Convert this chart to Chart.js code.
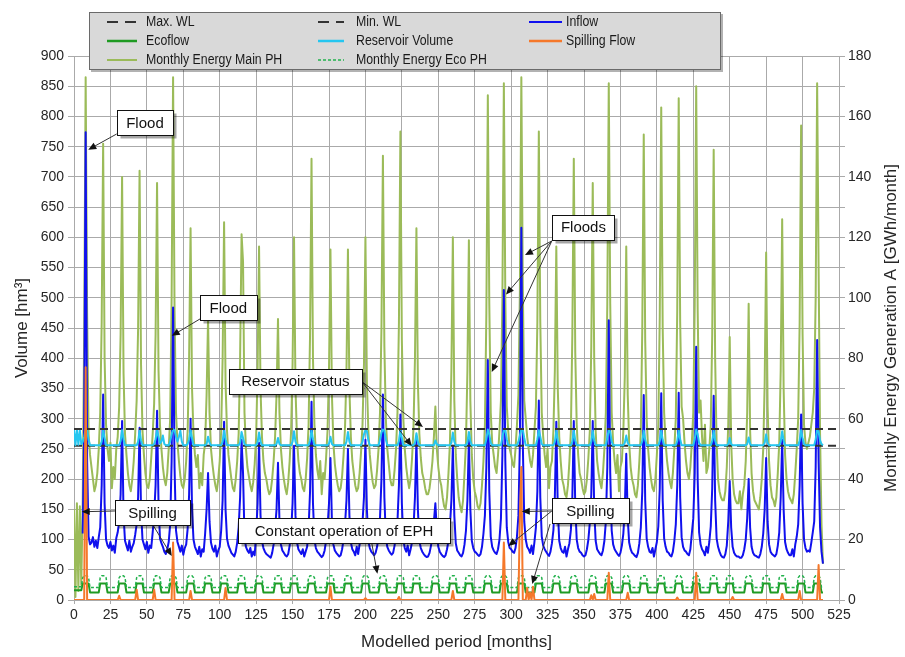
<!DOCTYPE html>
<html>
<head>
<meta charset="utf-8">
<script src="https://cdn.jsdelivr.net/npm/chart.js@4.4.1/dist/chart.umd.min.js"></script>
<style>
  html, body { margin: 0; padding: 0; background: #fff; }
  #wrap { width: 905px; height: 657px; }
</style>
</head>
<body>
<div id="wrap"><canvas id="chart" width="905" height="657"></canvas></div>
<script>
// Reservoir simulation, one value per modelled month (month 0 .. 514)

// Inflow [hm3] (no inflow record before month 6)
const inflow = [
  null,null,null,null,null,null,110,290,774,230,105,92,
  95,104,88,98,86,104,120,190,340,160,100,90,
  86,96,82,90,78,102,112,130,175,296,140,98,
  90,82,98,80,88,94,108,125,170,285,150,100,
  92,84,96,78,90,86,112,140,190,313,160,102,
  94,88,80,76,84,96,125,230,484,220,115,96,
  88,80,90,75,86,92,118,175,300,150,100,88,
  82,76,88,72,84,80,110,150,210,130,95,85,
  80,90,72,82,88,115,165,295,150,102,90,84,
  78,75,72,80,95,120,170,265,210,105,88,82,
  78,86,72,80,74,110,160,260,140,98,86,80,
  76,74,72,70,78,92,118,150,227,130,92,82,
  78,74,72,76,90,112,160,255,140,96,84,80,
  76,84,72,80,88,118,180,328,160,100,86,80,
  77,74,71,74,82,98,120,160,235,130,92,82,
  78,75,72,74,84,100,125,165,250,140,95,84,
  80,74,88,76,92,102,128,170,265,150,98,86,
  80,77,74,78,88,106,135,200,340,170,104,88,
  82,78,75,78,90,108,130,190,307,160,100,86,
  80,90,74,84,96,120,170,266,150,98,86,80,
  76,73,71,72,78,90,105,130,160,115,88,80,
  76,73,71,74,84,98,122,165,255,140,94,82,
  78,74,72,78,92,115,165,265,150,98,86,80,
  78,75,73,76,88,110,140,220,397,180,105,88,
  82,78,76,84,100,135,240,513,230,120,96,86,
  84,80,78,86,105,140,260,616,260,130,100,88,
  84,78,90,76,96,120,180,330,170,105,90,84,
  80,76,73,80,94,115,170,295,150,98,86,80,
  78,88,72,84,94,116,170,296,155,100,86,80,
  78,74,72,74,84,100,128,175,296,150,98,84,
  80,76,74,82,98,130,220,463,210,115,92,84,
  80,76,73,78,90,110,150,242,135,95,84,78,
  76,73,71,78,94,120,180,339,165,102,88,80,
  78,86,72,84,96,122,185,342,165,102,88,80,
  78,74,72,80,98,125,190,343,170,104,88,82,
  80,76,74,84,110,135,210,419,200,112,92,84,
  80,74,88,78,96,122,185,338,165,102,88,80,
  74,71,70,76,90,130,197,120,88,78,74,72,
  72,70,70,74,84,100,135,200,120,88,78,74,
  73,71,70,76,88,110,150,235,130,92,80,76,
  74,72,76,90,112,170,265,150,96,84,78,74,
  74,84,72,92,105,125,190,307,160,100,86,80,
  82,80,95,112,130,220,430,230,120,80,60
];

// Reservoir volume [hm3]
const reservoir = [
  282,256,282,257,281,258,262,270,282,281,265,256,
  256,256,256,256,256,256,256,262,281,268,256,256,
  256,256,256,256,256,256,256,256,263,281,266,256,
  256,256,256,256,256,256,256,256,262,280,264,256,
  256,256,256,256,256,256,256,258,266,281,270,259,
  262,272,258,256,256,256,262,274,282,281,270,262,
  270,280,262,256,256,256,258,266,281,268,256,256,
  256,256,256,256,256,256,256,258,270,260,256,256,
  256,256,256,256,256,256,262,280,266,256,256,256,
  256,256,256,256,256,256,260,278,268,258,256,256,
  256,256,256,256,256,256,261,277,262,256,256,256,
  256,256,256,256,256,256,256,258,268,258,256,256,
  256,256,256,256,256,256,262,279,262,256,256,256,
  256,256,256,256,256,256,264,281,266,256,256,256,
  256,256,256,256,256,256,256,259,270,258,256,256,
  256,256,256,256,256,256,256,262,278,262,256,256,
  256,256,256,256,256,256,262,274,281,279,264,256,
  256,256,256,256,256,256,265,277,282,280,266,256,
  256,256,256,256,256,256,256,263,281,268,256,256,
  256,256,256,256,256,256,260,276,262,256,256,256,
  256,256,256,256,256,256,256,256,264,258,256,256,
  256,256,256,256,256,256,256,260,277,262,256,256,
  256,256,256,256,256,256,261,278,263,256,256,256,
  256,256,256,256,256,256,256,266,282,274,260,256,
  256,256,256,256,256,256,270,282,281,266,256,256,
  256,256,256,256,256,262,272,282,282,268,256,256,
  256,256,256,256,256,256,266,281,270,258,256,256,
  256,256,256,256,256,256,262,280,264,256,256,256,
  256,256,256,256,256,256,262,280,264,256,256,256,
  256,256,256,256,256,256,256,262,280,264,256,256,
  256,256,256,256,256,256,268,282,278,262,256,256,
  256,256,256,256,256,256,260,272,260,256,256,256,
  256,256,256,256,256,256,263,280,265,256,256,256,
  256,256,256,256,256,256,263,280,265,256,256,256,
  256,256,256,256,256,256,263,281,266,256,256,256,
  256,256,256,256,256,256,266,282,274,260,256,256,
  256,256,256,256,256,256,263,280,264,256,256,256,
  256,256,256,256,256,258,268,258,256,256,256,256,
  256,256,256,256,256,256,258,269,258,256,256,256,
  256,256,256,256,256,256,260,274,260,256,256,256,
  256,256,256,256,256,262,279,264,256,256,256,256,
  256,256,256,256,256,256,264,281,268,258,256,256,
  256,256,256,256,256,266,282,278,264,258,256
];

// Ecoflow release [hm3]
const ecoflow = [
  16,16,16,16,16,16,27.5,27.5,27.5,27.5,27.5,12.5,
  12.5,12.5,12.5,12.5,12.5,12.5,27.5,27.5,27.5,27.5,27.5,12.5,
  12.5,12.5,12.5,12.5,12.5,12.5,12.5,27.5,27.5,27.5,27.5,27.5,
  12.5,12.5,12.5,12.5,12.5,12.5,12.5,27.5,27.5,27.5,27.5,27.5,
  12.5,12.5,12.5,12.5,12.5,12.5,12.5,27.5,27.5,27.5,27.5,27.5,
  12.5,12.5,12.5,12.5,12.5,12.5,27.5,27.5,27.5,27.5,27.5,12.5,
  12.5,12.5,12.5,12.5,12.5,12.5,27.5,27.5,27.5,27.5,27.5,12.5,
  12.5,12.5,12.5,12.5,12.5,12.5,27.5,27.5,27.5,27.5,27.5,12.5,
  12.5,12.5,12.5,12.5,12.5,27.5,27.5,27.5,27.5,27.5,12.5,12.5,
  12.5,12.5,12.5,12.5,12.5,27.5,27.5,27.5,27.5,27.5,12.5,12.5,
  12.5,12.5,12.5,12.5,12.5,27.5,27.5,27.5,27.5,27.5,12.5,12.5,
  12.5,12.5,12.5,12.5,12.5,12.5,27.5,27.5,27.5,27.5,27.5,12.5,
  12.5,12.5,12.5,12.5,12.5,27.5,27.5,27.5,27.5,27.5,12.5,12.5,
  12.5,12.5,12.5,12.5,12.5,27.5,27.5,27.5,27.5,27.5,12.5,12.5,
  12.5,12.5,12.5,12.5,12.5,12.5,27.5,27.5,27.5,27.5,27.5,12.5,
  12.5,12.5,12.5,12.5,12.5,12.5,27.5,27.5,27.5,27.5,27.5,12.5,
  12.5,12.5,12.5,12.5,12.5,12.5,27.5,27.5,27.5,27.5,27.5,12.5,
  12.5,12.5,12.5,12.5,12.5,12.5,27.5,27.5,27.5,27.5,27.5,12.5,
  12.5,12.5,12.5,12.5,12.5,12.5,27.5,27.5,27.5,27.5,27.5,12.5,
  12.5,12.5,12.5,12.5,12.5,27.5,27.5,27.5,27.5,27.5,12.5,12.5,
  12.5,12.5,12.5,12.5,12.5,12.5,27.5,27.5,27.5,27.5,27.5,12.5,
  12.5,12.5,12.5,12.5,12.5,12.5,27.5,27.5,27.5,27.5,27.5,12.5,
  12.5,12.5,12.5,12.5,12.5,27.5,27.5,27.5,27.5,27.5,12.5,12.5,
  12.5,12.5,12.5,12.5,12.5,12.5,27.5,27.5,27.5,27.5,27.5,12.5,
  12.5,12.5,12.5,12.5,12.5,27.5,27.5,27.5,27.5,27.5,12.5,12.5,
  12.5,12.5,12.5,12.5,12.5,27.5,27.5,27.5,27.5,27.5,12.5,12.5,
  12.5,12.5,12.5,12.5,12.5,27.5,27.5,27.5,27.5,27.5,12.5,12.5,
  12.5,12.5,12.5,12.5,12.5,27.5,27.5,27.5,27.5,27.5,12.5,12.5,
  12.5,12.5,12.5,12.5,12.5,27.5,27.5,27.5,27.5,27.5,12.5,12.5,
  12.5,12.5,12.5,12.5,12.5,12.5,27.5,27.5,27.5,27.5,27.5,12.5,
  12.5,12.5,12.5,12.5,12.5,27.5,27.5,27.5,27.5,27.5,12.5,12.5,
  12.5,12.5,12.5,12.5,12.5,27.5,27.5,27.5,27.5,27.5,12.5,12.5,
  12.5,12.5,12.5,12.5,12.5,27.5,27.5,27.5,27.5,27.5,12.5,12.5,
  12.5,12.5,12.5,12.5,12.5,27.5,27.5,27.5,27.5,27.5,12.5,12.5,
  12.5,12.5,12.5,12.5,12.5,27.5,27.5,27.5,27.5,27.5,12.5,12.5,
  12.5,12.5,12.5,12.5,12.5,27.5,27.5,27.5,27.5,27.5,12.5,12.5,
  12.5,12.5,12.5,12.5,12.5,27.5,27.5,27.5,27.5,27.5,12.5,12.5,
  12.5,12.5,12.5,12.5,27.5,27.5,27.5,27.5,27.5,12.5,12.5,12.5,
  12.5,12.5,12.5,12.5,12.5,27.5,27.5,27.5,27.5,27.5,12.5,12.5,
  12.5,12.5,12.5,12.5,12.5,27.5,27.5,27.5,27.5,27.5,12.5,12.5,
  12.5,12.5,12.5,12.5,27.5,27.5,27.5,27.5,27.5,12.5,12.5,12.5,
  12.5,12.5,12.5,12.5,12.5,27.5,27.5,27.5,27.5,27.5,12.5,12.5,
  12.5,12.5,12.5,12.5,27.5,27.5,27.5,27.5,27.5,12.5,12.5
];

// Spilling flow [hm3], only the months where the dam spills
const spillMonths = [8, 31, 43, 55, 68, 80, 104, 176, 200, 223, 260, 295, 306, 307, 311, 313, 315, 355, 357, 367, 380, 414, 427, 452, 486, 498, 511];
const spillFlow   = [385, 7, 17, 17, 95, 15, 20, 22, 3, 5, 15, 95, 140, 220, 20, 12, 22, 8, 10, 45, 12, 4, 45, 5, 10, 15, 58];

// Monthly energy, main powerhouse [GWh/month]
const energyMain = [
  30,1,32,3,31,5,33,90,173,95,55,48,
  44,40,36,38,42,50,62,92,151,80,58,50,
  46,52,37,44,40,50,54,64,88,140,75,55,
  48,42,38,36,40,46,55,66,90,142,78,56,
  48,42,38,37,40,47,55,65,88,138,76,58,
  50,44,40,38,42,50,60,100,173,96,62,52,
  46,41,38,37,40,46,56,80,123,70,55,48,
  44,48,37,42,38,48,52,68,93,62,50,45,
  41,38,36,40,46,56,80,125,72,56,48,44,
  40,37,36,40,46,55,80,121,112,62,50,44,
  41,38,36,39,45,54,76,117,70,54,46,42,
  40,37,35,36,40,46,54,68,93,62,50,44,
  40,37,35,39,46,56,78,120,70,54,46,42,
  40,37,36,40,47,58,88,146,80,58,48,43,
  40,46,35,42,40,47,56,76,116,68,52,45,
  41,38,36,37,41,48,57,76,116,70,54,46,
  42,38,36,37,42,49,58,78,120,72,56,48,
  43,39,37,38,43,50,62,90,147,84,60,50,
  45,40,38,38,43,50,62,92,155,86,60,50,
  44,40,37,40,47,57,80,123,72,55,47,42,
  40,37,35,35,37,41,46,54,64,50,44,40,
  38,34,31,30,34,42,52,76,120,66,48,40,
  34,31,29,33,42,52,76,119,66,48,40,36,
  34,31,30,32,38,46,58,95,167,98,62,52,
  48,44,42,48,56,66,100,171,100,64,56,50,
  48,45,44,50,58,68,102,173,104,66,60,54,
  50,46,44,48,56,64,92,155,92,62,54,48,
  44,50,37,44,46,56,76,117,70,54,46,40,
  38,35,34,38,46,56,88,146,82,58,48,42,
  40,37,35,36,40,47,56,84,138,80,56,46,
  42,39,37,42,50,62,98,171,98,62,52,46,
  42,48,36,44,46,56,74,117,68,52,44,40,
  38,35,34,38,46,56,90,154,86,60,50,44,
  40,37,36,40,48,58,94,163,90,62,52,46,
  42,39,37,42,50,60,96,166,92,64,60,52,
  46,42,40,44,52,62,98,170,96,62,66,54,
  46,58,42,44,50,58,88,149,80,52,40,36,
  34,33,33,36,44,58,87,52,40,35,33,32,
  32,36,30,35,38,46,62,98,56,42,36,33,
  32,31,30,34,40,50,72,115,64,46,38,34,
  33,31,34,42,52,76,126,70,48,40,36,34,
  33,32,35,42,50,60,92,157,88,58,52,50,
  52,54,58,62,70,100,171,110,55,25,12
];

// Monthly energy, eco powerhouse [GWh/month]
const energyEco = [
  4.4,4.4,4.4,4.4,4.4,4.4,7.4,8,8,8,7.4,4.1,
  4.1,4.1,4.1,4.1,4.1,4.1,7.4,8,8,8,7.4,4.1,
  4.1,4.1,4.1,4.1,4.1,4.1,4.1,7.4,8,8,8,7.4,
  4.1,4.1,4.1,4.1,4.1,4.1,4.1,7.4,8,8,8,7.4,
  4.1,4.1,4.1,4.1,4.1,4.1,4.1,7.4,8,8,8,7.4,
  4.1,4.1,4.1,4.1,4.1,4.1,7.4,8,8,8,7.4,4.1,
  4.1,4.1,4.1,4.1,4.1,4.1,7.4,8,8,8,7.4,4.1,
  4.1,4.1,4.1,4.1,4.1,4.1,7.4,8,8,8,7.4,4.1,
  4.1,4.1,4.1,4.1,4.1,7.4,8,8,8,7.4,4.1,4.1,
  4.1,4.1,4.1,4.1,4.1,7.4,8,8,8,7.4,4.1,4.1,
  4.1,4.1,4.1,4.1,4.1,7.4,8,8,8,7.4,4.1,4.1,
  4.1,4.1,4.1,4.1,4.1,4.1,7.4,8,8,8,7.4,4.1,
  4.1,4.1,4.1,4.1,4.1,7.4,8,8,8,7.4,4.1,4.1,
  4.1,4.1,4.1,4.1,4.1,7.4,8,8,8,7.4,4.1,4.1,
  4.1,4.1,4.1,4.1,4.1,4.1,7.4,8,8,8,7.4,4.1,
  4.1,4.1,4.1,4.1,4.1,4.1,7.4,8,8,8,7.4,4.1,
  4.1,4.1,4.1,4.1,4.1,4.1,7.4,8,8,8,7.4,4.1,
  4.1,4.1,4.1,4.1,4.1,4.1,7.4,8,8,8,7.4,4.1,
  4.1,4.1,4.1,4.1,4.1,4.1,7.4,8,8,8,7.4,4.1,
  4.1,4.1,4.1,4.1,4.1,7.4,8,8,8,7.4,4.1,4.1,
  4.1,4.1,4.1,4.1,4.1,4.1,7.4,8,8,8,7.4,4.1,
  4.1,4.1,4.1,4.1,4.1,4.1,7.4,8,8,8,7.4,4.1,
  4.1,4.1,4.1,4.1,4.1,7.4,8,8,8,7.4,4.1,4.1,
  4.1,4.1,4.1,4.1,4.1,4.1,7.4,8,8,8,7.4,4.1,
  4.1,4.1,4.1,4.1,4.1,7.4,8,8,8,7.4,4.1,4.1,
  4.1,4.1,4.1,4.1,4.1,7.4,8,8,8,7.4,4.1,4.1,
  4.1,4.1,4.1,4.1,4.1,7.4,8,8,8,7.4,4.1,4.1,
  4.1,4.1,4.1,4.1,4.1,7.4,8,8,8,7.4,4.1,4.1,
  4.1,4.1,4.1,4.1,4.1,7.4,8,8,8,7.4,4.1,4.1,
  4.1,4.1,4.1,4.1,4.1,4.1,7.4,8,8,8,7.4,4.1,
  4.1,4.1,4.1,4.1,4.1,7.4,8,8,8,7.4,4.1,4.1,
  4.1,4.1,4.1,4.1,4.1,7.4,8,8,8,7.4,4.1,4.1,
  4.1,4.1,4.1,4.1,4.1,7.4,8,8,8,7.4,4.1,4.1,
  4.1,4.1,4.1,4.1,4.1,7.4,8,8,8,7.4,4.1,4.1,
  4.1,4.1,4.1,4.1,4.1,7.4,8,8,8,7.4,4.1,4.1,
  4.1,4.1,4.1,4.1,4.1,7.4,8,8,8,7.4,4.1,4.1,
  4.1,4.1,4.1,4.1,4.1,7.4,8,8,8,7.4,4.1,4.1,
  4.1,4.1,4.1,4.1,7.4,8,8,8,7.4,4.1,4.1,4.1,
  4.1,4.1,4.1,4.1,4.1,7.4,8,8,8,7.4,4.1,4.1,
  4.1,4.1,4.1,4.1,4.1,7.4,8,8,8,7.4,4.1,4.1,
  4.1,4.1,4.1,4.1,7.4,8,8,8,7.4,4.1,4.1,4.1,
  4.1,4.1,4.1,4.1,4.1,7.4,8,8,8,7.4,4.1,4.1,
  4.1,4.1,4.1,4.1,7.4,8,8,8,7.4,4.1,4.1
];

// Operating levels [hm3], drawn across the whole period axis
const levelMonths = [0, 525];
const maxWL = [283, 283];
const minWL = [255, 255];

const months = inflow.map((_, i) => i);
const spill = months.map(m => {
  const j = spillMonths.indexOf(m);
  return j < 0 ? 0 : spillFlow[j];
});

const FONT = "'Liberation Sans', Arial, Helvetica, sans-serif";
const GRID = '#aaaaaa';
const TEXT = '#262626';

const COLORS = {
  inflow: '#1010ee',
  ecoflow: '#1f9a22',
  reservoir: '#25c6f0',
  spill: '#f5782a',
  energyMain: '#9bbb59',
  energyEco: '#22b24c',
  level: '#333333'
};

function toPoints(values, xs) {
  return values
    .map((v, i) => ({ x: xs[i], y: v }))
    .filter(p => p.y !== null);
}

// callouts placed in data units (x = month, y = hm3); w = box width in px
const callouts = [
  { text: 'Flood', x: 48.7, y: 790, w: 56, arrows: [[29.3, 771, 9.8, 745]] },
  { text: 'Flood', x: 105.9, y: 484, w: 57, arrows: [[86.5, 465, 67.1, 437]] },
  { text: 'Spilling', x: 53.9, y: 144.8, w: 75, arrows: [[28.1, 147.3, 5.3, 146], [54.2, 124, 67.1, 72.8]] },
  { text: 'Reservoir status', x: 151.9, y: 362, w: 133, arrows: [[197.8, 360.7, 239.5, 286.2], [197.8, 360.7, 231.8, 254.8]] },
  { text: 'Constant operation of EPH', x: 185.3, y: 114.7, w: 212, arrows: [[204.3, 94.6, 208.2, 43.3]] },
  { text: 'Floods', x: 349.6, y: 616.6, w: 62, arrows: [[327.9, 594, 309.5, 570.8], [327.9, 594, 296.5, 505.5], [327.9, 594, 286.7, 377.2]] },
  { text: 'Spilling', x: 354.4, y: 147.3, w: 77, arrows: [[327.9, 147.3, 307.3, 146.4], [327.9, 147.3, 298.1, 89.3], [326.7, 125.7, 314.5, 26.5]] }
];

const legendItems = [
  { label: 'Max. WL', color: COLORS.level, dash: [11, 7], width: 2 },
  { label: 'Min. WL', color: COLORS.level, dash: [11, 7], width: 2 },
  { label: 'Inflow', color: COLORS.inflow, dash: [], width: 2 },
  { label: 'Ecoflow', color: COLORS.ecoflow, dash: [], width: 2.5 },
  { label: 'Reservoir Volume', color: COLORS.reservoir, dash: [], width: 2.5 },
  { label: 'Spilling Flow', color: COLORS.spill, dash: [], width: 2.5 },
  { label: 'Monthly Energy Main PH', color: COLORS.energyMain, dash: [], width: 2 },
  { label: 'Monthly Energy Eco PH', color: COLORS.energyEco, dash: [3, 2], width: 1.5 }
];

function drawArrow(ctx, x1, y1, x2, y2) {
  const ang = Math.atan2(y2 - y1, x2 - x1);
  const len = 8, half = 3.5;
  ctx.strokeStyle = '#333';
  ctx.lineWidth = 1;
  ctx.setLineDash([]);
  ctx.beginPath();
  ctx.moveTo(x1, y1);
  ctx.lineTo(x2 - Math.cos(ang) * len * 0.8, y2 - Math.sin(ang) * len * 0.8);
  ctx.stroke();
  ctx.fillStyle = '#111';
  ctx.beginPath();
  ctx.moveTo(x2, y2);
  ctx.lineTo(x2 - Math.cos(ang) * len + Math.sin(ang) * half, y2 - Math.sin(ang) * len - Math.cos(ang) * half);
  ctx.lineTo(x2 - Math.cos(ang) * len - Math.sin(ang) * half, y2 - Math.sin(ang) * len + Math.cos(ang) * half);
  ctx.closePath();
  ctx.fill();
}

const overlayPlugin = {
  id: 'overlay',
  afterDraw(chart) {
    const { ctx } = chart;
    const xs = chart.scales.x, ys = chart.scales.y;
    ctx.save();

    // right axis title, read bottom to top like the left one
    ctx.save();
    ctx.translate(891, (chart.chartArea.top + chart.chartArea.bottom) / 2);
    ctx.rotate(-Math.PI / 2);
    ctx.font = '17px ' + FONT;
    ctx.fillStyle = TEXT;
    ctx.textAlign = 'center';
    ctx.textBaseline = 'middle';
    ctx.fillText('Monthly Energy Generation A [GWh/month]', 0, 0);
    ctx.restore();

    // callout boxes with arrows
    callouts.forEach(c => {
      c.arrows.forEach(a => {
        drawArrow(ctx, xs.getPixelForValue(a[0]), ys.getPixelForValue(a[1]),
                  xs.getPixelForValue(a[2]), ys.getPixelForValue(a[3]));
      });
      const cx = xs.getPixelForValue(c.x), cy = ys.getPixelForValue(c.y);
      const h = 25, x0 = Math.round(cx - c.w / 2) + 0.5, y0 = Math.round(cy - h / 2) + 0.5;
      ctx.fillStyle = 'rgba(0,0,0,0.35)';
      ctx.fillRect(x0 + 3, y0 + 3, c.w, h);
      ctx.fillStyle = '#fff';
      ctx.fillRect(x0, y0, c.w, h);
      ctx.strokeStyle = '#111';
      ctx.lineWidth = 1;
      ctx.strokeRect(x0, y0, c.w, h);
      ctx.font = '15px ' + FONT;
      ctx.fillStyle = '#111';
      ctx.textAlign = 'center';
      ctx.textBaseline = 'middle';
      ctx.fillText(c.text, cx, cy + 1);
    });

    // legend box over the top of the plot
    ctx.fillStyle = 'rgba(0,0,0,0.3)';
    ctx.fillRect(91, 14, 632, 58);
    ctx.fillStyle = '#d9d9d9';
    ctx.fillRect(89, 12, 632, 58);
    ctx.strokeStyle = '#6a6a6a';
    ctx.lineWidth = 1;
    ctx.strokeRect(89.5, 12.5, 631, 57);
    const lineX = [[107, 137], [318, 344], [529, 562]];
    const textX = [146, 356, 566];
    const rowY = [22, 41, 60];
    legendItems.forEach((item, i) => {
      const col = i % 3, row = Math.floor(i / 3);
      const y = rowY[row];
      ctx.strokeStyle = item.color;
      ctx.lineWidth = item.width;
      ctx.setLineDash(item.dash);
      ctx.beginPath();
      ctx.moveTo(lineX[col][0], y);
      ctx.lineTo(lineX[col][1], y);
      ctx.stroke();
      ctx.setLineDash([]);
      ctx.save();
      ctx.translate(textX[col], y);
      ctx.scale(0.88, 1);
      ctx.font = '14px ' + FONT;
      ctx.fillStyle = '#1a1a1a';
      ctx.textAlign = 'left';
      ctx.textBaseline = 'middle';
      ctx.fillText(item.label, 0, 0);
      ctx.restore();
    });

    ctx.restore();
  }
};

const baseLine = { pointRadius: 0, borderJoinStyle: 'round', tension: 0, fill: false };

new Chart(document.getElementById('chart'), {
  type: 'line',
  data: {
    datasets: [
      Object.assign({ label: 'Monthly Energy Main PH', data: toPoints(energyMain, months), yAxisID: 'y1',
        borderColor: COLORS.energyMain, borderWidth: 2, order: 8 }, baseLine),
      Object.assign({ label: 'Inflow', data: toPoints(inflow, months), yAxisID: 'y',
        borderColor: COLORS.inflow, borderWidth: 2, order: 7 }, baseLine),
      Object.assign({ label: 'Min. WL', data: toPoints(minWL, levelMonths), yAxisID: 'y',
        borderColor: COLORS.level, borderWidth: 2, borderDash: [8, 5], order: 6 }, baseLine),
      Object.assign({ label: 'Reservoir Volume', data: toPoints(reservoir, months), yAxisID: 'y',
        borderColor: COLORS.reservoir, borderWidth: 2, order: 5 }, baseLine),
      Object.assign({ label: 'Ecoflow', data: toPoints(ecoflow, months), yAxisID: 'y',
        borderColor: COLORS.ecoflow, borderWidth: 2, order: 4 }, baseLine),
      Object.assign({ label: 'Monthly Energy Eco PH', data: toPoints(energyEco, months), yAxisID: 'y1',
        borderColor: COLORS.energyEco, borderWidth: 1.5, borderDash: [3, 2], order: 3 }, baseLine),
      Object.assign({ label: 'Spilling Flow', data: toPoints(spill, months), yAxisID: 'y',
        borderColor: COLORS.spill, borderWidth: 2, order: 2 }, baseLine),
      Object.assign({ label: 'Max. WL', data: toPoints(maxWL, levelMonths), yAxisID: 'y',
        borderColor: COLORS.level, borderWidth: 2, borderDash: [8, 5], order: 1 }, baseLine)
    ]
  },
  options: {
    responsive: false,
    animation: false,
    events: [],
    layout: { padding: { top: 56, left: 0, right: 0, bottom: 0 } },
    plugins: { legend: { display: false }, tooltip: { enabled: false } },
    scales: {
      x: {
        type: 'linear', min: 0, max: 525,
        ticks: { stepSize: 25, autoSkip: false, maxRotation: 0, padding: 3, color: TEXT, font: { size: 14, family: FONT } },
        grid: { color: GRID, lineWidth: 1, tickLength: 4 },
        border: { color: GRID },
        title: { display: true, text: 'Modelled period [months]', color: TEXT, font: { size: 17, family: FONT }, padding: { top: 0, bottom: 4 } },
        afterFit(scale) { scale.height = 57; }
      },
      y: {
        position: 'left', min: 0, max: 900,
        ticks: { stepSize: 50, autoSkip: false, padding: 4, color: TEXT, font: { size: 14, family: FONT } },
        grid: { color: GRID, lineWidth: 1, tickLength: 6 },
        border: { color: GRID },
        title: { display: true, text: 'Volume [hm³]', color: TEXT, font: { size: 17, family: FONT }, padding: { top: 12, bottom: 0 } },
        afterFit(scale) { scale.width = 74; }
      },
      y1: {
        position: 'right', min: 0, max: 180,
        ticks: { stepSize: 10, autoSkip: false, padding: 3, color: TEXT, font: { size: 14, family: FONT },
          callback: v => (v % 20 === 0 ? v : '') },
        grid: { drawOnChartArea: false, color: GRID, tickLength: 6 },
        border: { color: GRID },
        afterFit(scale) { scale.width = 66; }
      }
    }
  },
  plugins: [overlayPlugin]
});
</script>
</body>
</html>
